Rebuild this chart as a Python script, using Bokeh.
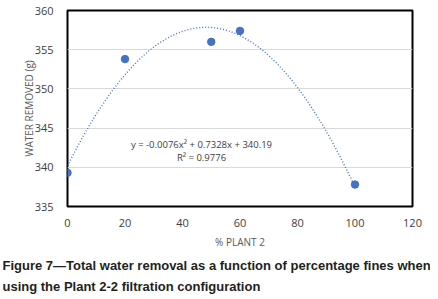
import numpy as np
from bokeh.plotting import figure
from bokeh.models import Range1d, Label, FixedTicker, Title
from bokeh.embed import file_html
from bokeh.resources import INLINE

# Data
pct_plant2 = [0, 20, 50, 60, 100]
water_removed = [339.3, 353.8, 356.0, 357.4, 337.8]
# Trendline coefficients as printed on the chart
trend_a, trend_b, trend_c = -0.0076, 0.7328, 340.19
trend_label = "y = -0.0076x\u00b2 + 0.7328x + 340.19"
r2_label = "R\u00b2 = 0.9776"
x_ticks = [0, 20, 40, 60, 80, 100, 120]
y_ticks = [335, 340, 345, 350, 355, 360]
caption1 = "Figure 7\u2014Total water removal as a function of percentage fines when"
caption2 = "using the Plant 2-2 filtration configuration"

W, H = 430, 294
p = figure(width=W, height=H, output_backend="svg", toolbar_location=None,
           x_range=Range1d(0, 120), y_range=Range1d(335, 360),
           min_border_left=67, min_border_right=W - 412, min_border_top=10,
           min_border_bottom=H - 206)

p.outline_line_color = "black"
p.outline_line_width = 2
p.background_fill_color = "white"
p.border_fill_color = "white"

p.xgrid.visible = False
p.ygrid.grid_line_color = "#d9d9d9"
p.ygrid.grid_line_width = 1
p.ygrid.ticker = FixedTicker(ticks=y_ticks)

for ax in (p.xaxis[0], p.yaxis[0]):
    ax.axis_line_color = None
    ax.major_tick_line_color = None
    ax.minor_tick_line_color = None
    ax.major_label_text_font = "Open Sans"
    ax.major_label_text_font_size = "11px"
    ax.major_label_text_color = "#404040"
    ax.axis_label_text_font = "Open Sans"
    ax.axis_label_text_font_size = "10px"
    ax.axis_label_text_color = "#595959"
    ax.axis_label_text_font_style = "normal"

p.xaxis.ticker = FixedTicker(ticks=x_ticks)
p.yaxis.ticker = FixedTicker(ticks=y_ticks)
p.xaxis.axis_label = "% PLANT 2"
p.yaxis.axis_label = "WATER REMOVED (g)"
p.xaxis.major_label_standoff = 6
p.yaxis.major_label_standoff = 8
p.xaxis.axis_label_standoff = 5
p.yaxis.axis_label_standoff = -4

# Trendline from printed coefficients
xt = np.linspace(0, 100, 200)
yt = trend_a * xt**2 + trend_b * xt + trend_c
p.line(xt, yt, line_color="#4472C4", line_width=1.4, line_dash="1 2")

p.scatter(pct_plant2, water_removed, size=7.5, color="#4472C4")

p.add_layout(Label(x=46.6, y=342.9, text=trend_label, text_align="center",
                   text_baseline="middle", text_font="Open Sans",
                   text_font_size="9.5px", text_color="#404040"))
p.add_layout(Label(x=46.6, y=341.25, text=r2_label, text_align="center",
                   text_baseline="middle", text_font="Open Sans",
                   text_font_size="9.5px", text_color="#404040"))

# Caption as titles below the plot
for txt, so in ((caption1, 8), (caption2, 1)):
    p.add_layout(Title(text=txt, align="left", offset=-65, standoff=so,
                       text_font="Liberation Sans", text_font_style="bold",
                       text_font_size="13px", text_color="#231f20"), "below")

open("out.html", "w").write(file_html(p, INLINE))
